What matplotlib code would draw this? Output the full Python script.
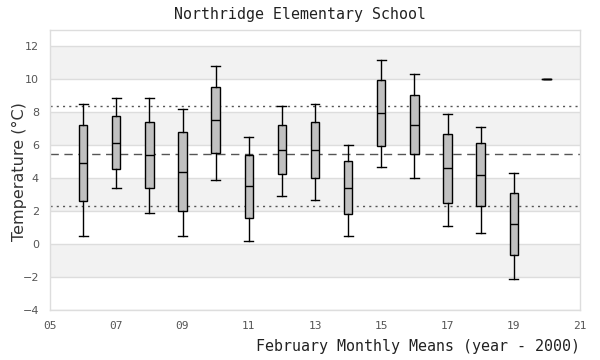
"""February monthly mean temperature boxplots, Northridge Elementary School."""
import matplotlib
matplotlib.use("Agg")
import matplotlib.pyplot as plt

# -- data (years since 2000) --
years = [6, 7, 8, 9, 10, 11, 12, 13, 14, 15, 16, 17, 18, 19, 20]
whisker_low = [0.48, 3.39, 1.90, 0.48, 3.88, 0.18, 2.91, 2.67, 0.48, 4.67, 4.00, 1.09, 0.67, -2.12, 10.0]
q1 = [2.61, 4.55, 3.39, 2.00, 5.52, 1.58, 4.24, 4.00, 1.82, 5.94, 5.45, 2.48, 2.30, -0.67, 10.0]
medians = [4.91, 6.12, 5.39, 4.36, 7.52, 3.52, 5.70, 5.70, 3.39, 7.94, 7.21, 4.61, 4.18, 1.21, 10.0]
q3 = [7.21, 7.76, 7.39, 6.79, 9.52, 5.39, 7.21, 7.39, 5.03, 9.94, 9.03, 6.67, 6.12, 3.09, 10.0]
whisker_high = [8.48, 8.85, 8.85, 8.18, 10.79, 6.48, 8.36, 8.48, 6.00, 11.15, 10.30, 7.88, 7.09, 4.30, 10.0]

overall_mean = 5.45
band_low = 2.30
band_high = 8.36

xticks = [5, 7, 9, 11, 13, 15, 17, 19, 21]
xtick_labels = ["05", "07", "09", "11", "13", "15", "17", "19", "21"]
yticks = [-4, -2, 0, 2, 4, 6, 8, 10, 12]

mono = "DejaVu Sans Mono"
grid_col = "#dddddd"

fig = plt.figure(figsize=(6, 3.6), dpi=100)
ax = fig.add_axes([50 / 600, 1 - 310 / 360, 530 / 600, 280 / 360])

# -- alternating background bands --
for lo in [10, 6, 2, -2]:
    ax.axhspan(lo, lo + 2, color="#f2f2f2", zorder=0, lw=0)
for y in yticks:
    ax.axhline(y, color=grid_col, lw=1.0, zorder=0.5)

# -- reference lines --
ax.axhline(overall_mean, color="#555555", lw=1.0, ls=(0, (6, 4)), zorder=1)
ax.axhline(band_high, color="#555555", lw=1.0, ls=(0, (1.5, 3)), zorder=1)
ax.axhline(band_low, color="#555555", lw=1.0, ls=(0, (1.5, 3)), zorder=1)

# -- boxes --
stats = [
    dict(whislo=wl, q1=a, med=m, q3=b, whishi=wh, fliers=[])
    for wl, a, m, b, wh in zip(whisker_low, q1, medians, q3, whisker_high)
]
ax.bxp(
    stats,
    positions=years,
    widths=0.25,
    patch_artist=True,
    showfliers=False,
    boxprops=dict(facecolor="#c0c0c0", edgecolor="black", linewidth=1.0),
    medianprops=dict(color="black", linewidth=1.0),
    whiskerprops=dict(color="black", linewidth=1.0),
    capprops=dict(color="black", linewidth=1.0),
    capwidths=0.27,
    zorder=3,
)

ax.set_xlim(5, 21)
ax.set_ylim(-4, 13)
ax.set_xticks(xticks)
ax.set_xticklabels(xtick_labels)
ax.set_yticks(yticks)
ax.tick_params(length=0, labelsize=8, colors="#555555", pad=8)
for lab in ax.get_xticklabels():
    lab.set_family(mono)

for sp in ax.spines.values():
    sp.set_color(grid_col)
    sp.set_linewidth(1.0)

fig.text(19 / 600, 1 - 172 / 360, "Temperature (°C)", rotation=90, ha="center",
         va="center", fontsize=11.5, color="#333333")
fig.text(0.5, 1 - 14 / 360, "Northridge Elementary School", ha="center", va="center",
         family=mono, fontsize=10.7, color="#222222")
fig.text(580 / 600, 1 - 347 / 360, "February Monthly Means (year - 2000)", ha="right",
         va="center", family=mono, fontsize=10.8, color="#222222")

fig.savefig("out.png", dpi=100)
plt.close(fig)
